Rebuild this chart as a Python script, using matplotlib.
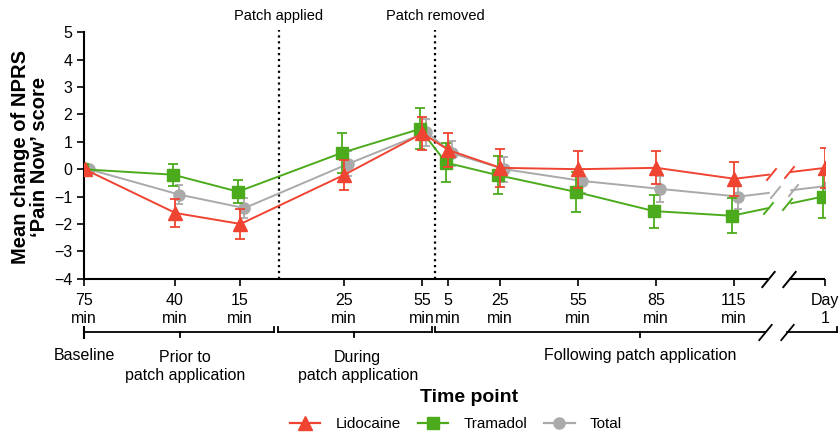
import numpy as np
import matplotlib
matplotlib.use("Agg")
import matplotlib.pyplot as plt
from matplotlib.lines import Line2D
from matplotlib.path import Path
from matplotlib.transforms import offset_copy, blended_transform_factory

plt.rcParams['font.family'] = ['Liberation Sans', 'DejaVu Sans']

# time points in minutes relative to patch application (patch on at 0, off at 60)
time_min = [-75, -40, -15, 25, 55, 65, 85, 115, 145, 175]
tick_labels = ['75\nmin', '40\nmin', '15\nmin', '25\nmin', '55\nmin', '5\nmin',
               '25\nmin', '55\nmin', '85\nmin', '115\nmin', 'Day\n1']

lido_mean = [0, -1.6, -2.0, -0.2, 1.31, 0.7, 0.05, 0.0, 0.05, -0.35, 0.05]
lido_err = [0, 0.52, 0.56, 0.55, 0.6, 0.62, 0.7, 0.68, 0.6, 0.63, 0.72]
tram_mean = [0, -0.2, -0.82, 0.6, 1.47, 0.24, -0.22, -0.83, -1.53, -1.7, -1.0]
tram_err = [0, 0.4, 0.42, 0.73, 0.75, 0.7, 0.7, 0.72, 0.6, 0.63, 0.8]
total_mean = [0, -0.93, -1.42, 0.2, 1.35, 0.58, 0.0, -0.43, -0.72, -1.0, -0.6]
total_err = [0, 0.35, 0.35, 0.45, 0.5, 0.45, 0.45, 0.45, 0.47, 0.44, 0.45]

# layout constants (axis position of Day 1, the break, the patch events)
DAY1_X = 210
BREAK_L, BREAK_R = 189, 196
PATCH_ON, PATCH_OFF = 0, 60

RED = '#F04432'
GREEN = '#4CAB1C'
GREY = '#AAAAAA'

x = np.array(time_min + [DAY1_X], dtype=float)

fig = plt.figure(figsize=(8.4, 4.33), dpi=100)
ax = fig.add_axes([0.1, 0.3563, 0.8821, 0.5691])
ax.set_xlim(-75, DAY1_X)
ax.set_ylim(-4, 5)

slash = Path([(-0.45, -0.55), (0.45, 0.55)], [Path.MOVETO, Path.LINETO])

series = [
    ('Total', total_mean, total_err, GREY, 'o', 8, 4.5, 3.0),
    ('Tramadol', tram_mean, tram_err, GREEN, 's', 8.5, -2, 3.5),
    ('Lidocaine', lido_mean, lido_err, RED, '^', 10, 0.5, 3.8),
]
handles = {}
for i, (name, m, e, col, mk, ms, dx, cap) in enumerate(series):
    tr = offset_copy(ax.transData, fig=fig, x=dx, y=0, units='dots')
    z = 3 + i
    ax.errorbar(x, m, yerr=e, color=col, marker=mk, markersize=ms, lw=1.4,
                elinewidth=1.3, capsize=cap, capthick=1.3, transform=tr,
                zorder=z)
    # slashes where the line is broken
    yb_l = np.interp(BREAK_L, x, m)
    yb_r = np.interp(BREAK_R, x, m)
    ax.plot([BREAK_L, BREAK_R], [yb_l, yb_r], ls='none', marker=slash,
            markersize=9, markeredgewidth=1.4, color=col, transform=tr,
            zorder=11)
    handles[name] = Line2D([], [], color=col, marker=mk, markersize=ms, lw=1.6)

# white gap for the axis break
ax.axvspan(BREAK_L, BREAK_R, color='white', zorder=10)

# dotted lines for patch events
for xv, lab in [(PATCH_ON, 'Patch applied'), (PATCH_OFF, 'Patch removed')]:
    ax.axvline(xv, ymin=0, ymax=1.01, color='black', ls=':', lw=1.6,
               clip_on=False, zorder=2)
    ax.text(xv, 1.066, lab, transform=blended_transform_factory(ax.transData, ax.transAxes),
            ha='center', va='center', fontsize=10.5)

# axes styling
for s in ['top', 'right', 'bottom']:
    ax.spines[s].set_visible(False)
ax.spines['left'].set_linewidth(1.5)
ax.set_yticks(range(-4, 6))
ax.set_yticklabels([str(v).replace('-', '\u2212') for v in range(-4, 6)])
ax.set_xticks(x)
ax.set_xticklabels(tick_labels, linespacing=1.3)
ax.tick_params(axis='both', length=5, width=1.2, labelsize=11.5, direction='out')
ax.tick_params(axis='x', pad=5)

bt = blended_transform_factory(ax.transData, ax.transAxes)
# broken x axis line
ax.plot([-75, BREAK_L - 0.8], [0, 0], color='black', lw=1.5, transform=bt,
        clip_on=False, zorder=12, solid_capstyle='butt')
ax.plot([BREAK_R + 0.3, DAY1_X], [0, 0], color='black', lw=1.5, transform=bt,
        clip_on=False, zorder=12, solid_capstyle='butt')
ax.plot([BREAK_L - 0.8, BREAK_R + 0.3], [0, 0], ls='none', marker=slash,
        markersize=12, markeredgewidth=1.4, color='black', transform=bt,
        clip_on=False, zorder=12)

# group brackets below the tick labels
yb = -0.215
up = 0.02
down = 0.02
brackets = [(-75, -2, -38), (-0.3, 58.7, 28.8), (60, 214.5, 138.8)]
for x0, x1, xc in brackets:
    if x0 < BREAK_L < x1:
        segs = [(x0, 187), (195.3, x1)]
    else:
        segs = [(x0, x1)]
    for a, b in segs:
        ax.plot([a, b], [yb, yb], color='black', lw=1.3, transform=bt, clip_on=False)
    ax.plot([x0, x0], [yb, yb + up], color='black', lw=1.3, transform=bt, clip_on=False)
    ax.plot([x1, x1], [yb, yb + up], color='black', lw=1.3, transform=bt, clip_on=False)
    ax.plot([xc, xc], [yb, yb - down], color='black', lw=1.3, transform=bt, clip_on=False)
    if len(segs) == 2:
        ax.plot([187, 195.3], [yb, yb], ls='none', marker=slash, markersize=12,
                markeredgewidth=1.3, color='black', transform=bt, clip_on=False)
# baseline tick
ax.plot([-75, -75], [yb + up, yb - 0.026], color='black', lw=1.5, transform=bt, clip_on=False)

ax.text(-75, -0.31, 'Baseline', transform=bt, ha='center', va='center', fontsize=11.5)
ax.text(-36.2, -0.355, 'Prior to\npatch application', transform=bt, ha='center',
        va='center', fontsize=11.5, linespacing=1.25)
ax.text(30.3, -0.355, 'During\npatch application', transform=bt, ha='center',
        va='center', fontsize=11.5, linespacing=1.25)
ax.text(138.8, -0.31, 'Following patch application', transform=bt, ha='center',
        va='center', fontsize=11.5)

fig.text(30 / 840, 1 - 157 / 433, 'Mean change of NPRS\n\u2018Pain Now\u2019 score',
         rotation=90, ha='center', va='center', fontsize=14.5, fontweight='bold',
         linespacing=1.05, multialignment='center')

fig.text(469 / 840, 1 - 398 / 433, 'Time point', ha='center', va='center',
         fontsize=14, fontweight='bold')

order = ['Lidocaine', 'Tramadol', 'Total']
fig.legend([handles[k] for k in order], order, loc='center',
           bbox_to_anchor=(456 / 840, 1 - 424 / 433), ncol=3, frameon=False,
           fontsize=11, handlelength=2.0, handletextpad=1.0, columnspacing=1.1,
           borderpad=0.1)

fig.savefig('out.png', dpi=100)
